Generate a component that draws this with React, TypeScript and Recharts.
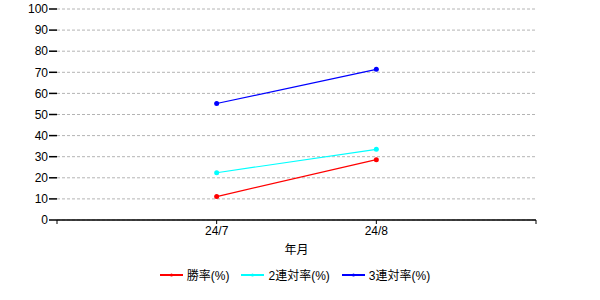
import React from 'react';
import { LineChart, Line, XAxis, YAxis, CartesianGrid, Legend } from 'recharts';

const months = ['24/7', '24/8'];
const winRate = [11.1, 28.6];
const top2Rate = [22.4, 33.5];
const top3Rate = [55.2, 71.4];
const yTicks = [0, 10, 20, 30, 40, 50, 60, 70, 80, 90, 100];
const xTicks = [0, 1, 2, 3];

const FONT = '"Liberation Sans", Arial, "Noto Sans CJK JP", sans-serif';

const series = [
  { key: 'win', name: '勝率(%)', color: '#ff0000', values: winRate },
  { key: 'top2', name: '2連対率(%)', color: '#00ffff', values: top2Rate },
  { key: 'top3', name: '3連対率(%)', color: '#0000ff', values: top3Rate },
];

const data = months.map((m, i) => {
  const row: Record<string, number | string> = { x: i + 1, month: m };
  series.forEach(s => { row[s.key] = s.values[i]; });
  return row;
});

function ChartLegend() {
  return (
    <div style={{ display: 'flex', justifyContent: 'center', alignItems: 'center', gap: 12, fontFamily: FONT, fontSize: 12, color: '#000' }}>
      {series.map(s => (
        <div key={s.key} style={{ display: 'flex', alignItems: 'center', gap: 4 }}>
          <svg width={23} height={8}>
            <line x1={0} y1={4} x2={23} y2={4} stroke={s.color} strokeWidth={2} />
            <circle cx={11.5} cy={4} r={1.5} fill={s.color} />
          </svg>
          <span>{s.name}</span>
        </div>
      ))}
    </div>
  );
}

export default function App() {
  return (
    <div style={{ position: 'absolute', left: 0, top: 0, width: 600, height: 300, background: '#fff' }}>
      <LineChart width={600} height={300} data={data} margin={{ top: 9, right: 64, bottom: 14, left: 0 }}>
        <CartesianGrid vertical={false} stroke="#b4b4b4" strokeDasharray="3 2" />
        <XAxis
          dataKey="x"
          type="number"
          domain={[0, 3]}
          ticks={xTicks}
          tickFormatter={(v: number) => months[v - 1] ?? ''}
          height={46}
          tickSize={4}
          tickMargin={2}
          axisLine={{ stroke: '#000', strokeWidth: 1.5 }}
          tickLine={{ stroke: '#000' }}
          tick={{ fill: '#000', fontSize: 12, fontFamily: FONT }}
          label={{ value: '年月', position: 'insideBottom', offset: 12, fill: '#000', fontSize: 12, fontFamily: FONT }}
        />
        <YAxis
          domain={[0, 100]}
          ticks={yTicks}
          width={57}
          tickSize={8}
          tickMargin={1}
          axisLine={false}
          tickLine={{ stroke: '#000', strokeWidth: 1.5 }}
          tick={{ fill: '#000', fontSize: 12, fontFamily: FONT }}
          interval={0}
        />
        <Legend
          verticalAlign="bottom"
          content={() => <ChartLegend />}
          wrapperStyle={{ height: 20, width: 590, left: 0 }}
        />
        {series.map(s => (
          <Line
            key={s.key}
            type="linear"
            dataKey={s.key}
            name={s.name}
            stroke={s.color}
            strokeWidth={1.2}
            dot={{ r: 2.5, fill: s.color, stroke: s.color, strokeWidth: 0 }}
            activeDot={false}
            isAnimationActive={false}
          />
        ))}
      </LineChart>
    </div>
  );
}
